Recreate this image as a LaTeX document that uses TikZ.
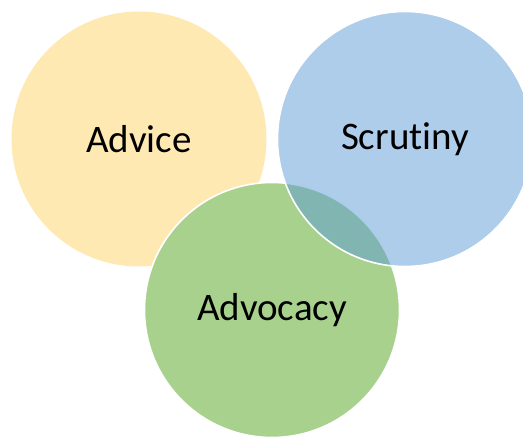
\documentclass[tikz,border=0pt]{standalone}
\usepackage{fontspec}
\setmainfont{Carlito}[Ligatures=NoCommon]
\definecolor{advicefill}{RGB}{255,233,179}
\definecolor{advocacyfill}{RGB}{169,209,142}
\definecolor{scrutinyfill}{RGB}{91,155,213}
\tikzset{
  ring/.style={circle, minimum size=255pt, inner sep=0pt, draw=white, line width=1.6pt,
    font=\fontsize{39}{47}\selectfont}
}

\begin{document}
\begin{tikzpicture}[x=1pt, y=-1pt]
          \useasboundingbox (0, 0) rectangle (523, 437);
          \node[ring, fill=advicefill, draw=none] (advice) at (139, 139) {Advice};
          \node[ring, fill=advocacyfill] (advocacy) at (272, 310) {Advocacy};
          \node[ring, fill=scrutinyfill, fill opacity=0.5, text opacity=1] (scrutiny) at (405, 139) {Scrutiny};
        \end{tikzpicture}
\end{document}
